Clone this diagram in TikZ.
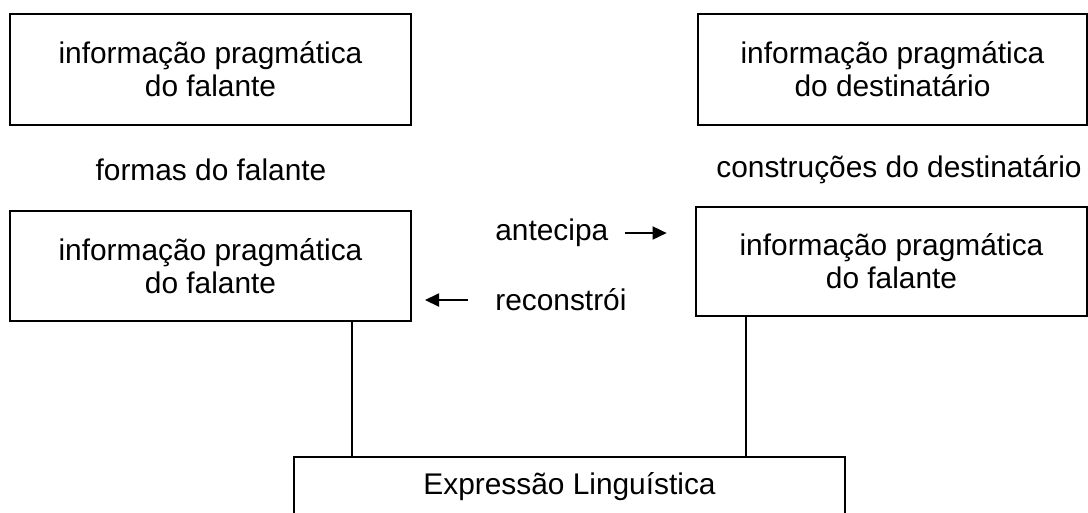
\documentclass[tikz,border=0pt]{standalone}
\usepackage{fontspec}
\setmainfont{Liberation Sans}
\usetikzlibrary{arrows.meta}
\tikzset{caixa/.style={draw,line width=0.8pt,align=center,inner sep=0pt},
 rotulo/.style={inner sep=0pt,anchor=west},
 seta/.style={-{Triangle[length=8pt,width=7.5pt]},line width=0.8pt},
 liga/.style={line width=0.8pt},
 }

\begin{document}
\begin{tikzpicture}[x=0.02cm,y=-0.02cm,font=\fontsize{17}{18.8}\selectfont]
        \useasboundingbox (0,0) rectangle (1088,512);
        \clip (0,0) rectangle (1088,512);
        % caixas de cima
        \node[caixa,minimum width=8.02cm,minimum height=2.22cm] (falA) at (210.5,69.5) {informação pragmática\\do falante};
        \node[caixa,minimum width=7.78cm,minimum height=2.22cm] (destA) at (892.5,69.5) {informação pragmática\\do destinatário};
        \node[rotulo,anchor=center] (formas) at (211,170) {formas do falante};
        \node[rotulo] (constr) at (716,170) {construções do destinatário};
        % caixas do meio
        \node[caixa,minimum width=8.02cm,minimum height=2.2cm] (falB) at (210.5,266) {informação pragmática\\do falante};
        \node[caixa,minimum width=7.82cm,minimum height=2.18cm] (destB) at (891.5,261.5) {informação pragmática\\do falante};
        \node[rotulo] (ant) at (495,233) {antecipa};
        \node[rotulo] (rec) at (495,300) {reconstrói};
        \draw[seta] (ant.east) ++(16,0) -- ++(42,0);
        \draw[seta] (rec.west) ++(-27,0) -- ++(-43,0);
        % expressao
        \node[caixa,minimum width=11.02cm,minimum height=1.2cm] (expr) at (569.5,487) {Expressão Linguística};
        \coordinate (p1) at (352,0);
        \coordinate (p2) at (746,0);
        \draw[liga] (p1 |- falB.south) -- (p1 |- expr.north);
        \draw[liga] (p2 |- destB.south) -- (p2 |- expr.north);
    \end{tikzpicture}
\end{document}
